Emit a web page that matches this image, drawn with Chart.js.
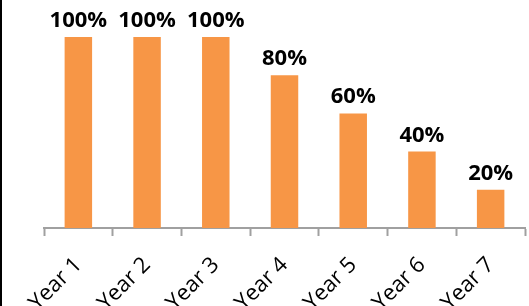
<!DOCTYPE html>
<html>
<head>
<meta charset="utf-8">
<script src="https://cdn.jsdelivr.net/npm/chart.js@4"></script>
<style>
  html, body { margin: 0; padding: 0; background: #fff; }
  #wrap { position: relative; width: 527px; height: 306px; border-left: 2px solid #000; overflow: hidden; }
</style>
</head>
<body>
<div id="wrap"><canvas id="chart" width="527" height="306"></canvas></div>
<script>
const years = ['Year 1', 'Year 2', 'Year 3', 'Year 4', 'Year 5', 'Year 6', 'Year 7'];
const shares = [100, 100, 100, 80, 60, 40, 20];

// draws the "100%" style labels above each bar
const valueLabels = {
  id: 'valueLabels',
  afterDatasetsDraw(chart) {
    const ctx = chart.ctx;
    const meta = chart.getDatasetMeta(0);
    ctx.save();
    ctx.font = 'bold 22px "Open Sans"';
    ctx.fillStyle = '#000';
    ctx.textAlign = 'center';
    ctx.textBaseline = 'alphabetic';
    meta.data.forEach((bar, i) => {
      ctx.fillText(shares[i] + '%', bar.x, bar.y - 10);
    });
    ctx.restore();
  }
};

new Chart(document.getElementById('chart').getContext('2d'), {
  type: 'bar',
  data: {
    labels: years,
    datasets: [{
      data: shares,
      backgroundColor: '#F79646',
      categoryPercentage: 1,
      barPercentage: 0.4
    }]
  },
  options: {
    responsive: false,
    animation: false,
    layout: { padding: { top: 37, left: 42, right: 4, bottom: 0 } },
    plugins: {
      legend: { display: false },
      tooltip: { enabled: false }
    },
    scales: {
      y: { display: false, min: 0, max: 100 },
      x: {
        grid: {
          drawOnChartArea: false,
          drawTicks: true,
          tickLength: 8,
          tickColor: '#A0A0A0',
          tickWidth: 2,
          offset: true
        },
        border: { color: '#A0A0A0', width: 2 },
        ticks: {
          color: '#000',
          font: { family: '"Open Sans"', size: 22 },
          minRotation: 45,
          maxRotation: 45,
          padding: 16
        },
        afterFit(scale) { scale.height = 78; }
      }
    }
  },
  plugins: [valueLabels]
});
</script>
</body>
</html>
